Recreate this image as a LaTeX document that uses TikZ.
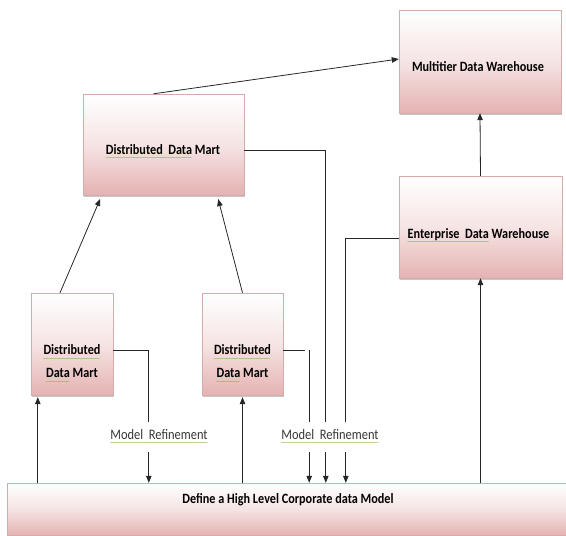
\documentclass[tikz,border=0pt]{standalone}
\usepackage{fontspec}
\setmainfont{Carlito}
\newfontfamily\narrowfont[FakeStretch=0.86]{Carlito}
\usetikzlibrary{arrows.meta,shadows}

\definecolor{boxpink}{RGB}{229,178,178}
\definecolor{boxline}{RGB}{212,172,172}
\definecolor{squig}{RGB}{130,180,80}

% green wavy spell-check underline
\newcommand\spell[1]{\leavevmode\setbox0\hbox{#1}%
  \rlap{\raisebox{-5.6pt}{\color{squig}\hbox to \wd0{\leaders\hbox{\fontsize{5}{5}\fontseries{m}\selectfont\kern-0.5pt\textasciitilde\kern-0.5pt}\hfill}}}\box0\relax}

\begin{document}
\begin{tikzpicture}[x=1pt, y=-1pt,
    box/.style={draw=boxline, top color=white, bottom color=boxpink,
                middle color=boxpink!35, inner sep=0pt,
                drop shadow={shadow xshift=1pt, shadow yshift=-1.5pt, fill=black!50, opacity=0.45}},
    boxtext/.style={font=\narrowfont\bfseries\fontsize{14.2}{23}\selectfont, text=black, align=center},
    refine/.style={fill=white, font=\narrowfont\fontsize{14.5}{15}\selectfont, text=black!78,
                   inner xsep=1pt, minimum height=30pt},
    link/.style={line width=0.8pt, draw=black!85},
    arr/.style={link, -{Triangle[length=7pt,width=5.5pt]}}]

  \useasboundingbox (0,0) rectangle (566,536);

  \node[box, minimum width=162pt, minimum height=103pt] (mdw) at (480,61.5) {};
  \node[box, minimum width=161pt, minimum height=101pt] (ddm) at (163.5,144.5) {};
  \node[box, minimum width=163pt, minimum height=102pt] (edw) at (480.5,227) {};
  \node[box, minimum width=82pt, minimum height=102pt] (dm1) at (72,344) {};
  \node[box, minimum width=81pt, minimum height=102pt] (dm2) at (242.5,344) {};
  \node[box, minimum width=561pt, minimum height=52pt] (base) at (287.5,509) {};

  \node[boxtext] (mdw-t) at (478,67) {Multitier Data Warehouse};
  \node[boxtext] (ddm-t) at (163,152) {\spell{Distributed\ \ Data} Mart};
  \node[boxtext] (edw-t) at (478.5,236) {\spell{Enterprise\ \ Data} Warehouse};
  \node[boxtext] (dm1-t) at (72,364) {\spell{Distributed}\\\spell{Data} Mart};
  \node[boxtext] (dm2-t) at (242.5,364) {\spell{Distributed}\\\spell{Data} Mart};
  \node[boxtext] (base-t) at (288,500) {Define a High Level Corporate data Model};

  % upward links
  \draw[arr] ([xshift=-10pt]ddm.north) -- ([yshift=2.5pt]mdw.west);
  \draw[arr] (edw.north) -- (mdw.south);
  \draw[arr] (edw.south |- base.north) -- (edw.south);
  \coordinate (u1) at ([xshift=7pt]dm1.south west);
  \draw[arr, shorten >=2pt] (u1 |- base.north) -- (u1);
  \draw[arr, shorten >=2pt] (dm2.south |- base.north) -- (dm2.south);
  \draw[arr, shorten >=4pt] ([xshift=-12pt]dm1.north) -- ([xshift=19pt]ddm.south west);
  \draw[arr, shorten >=4pt] (dm2.north) -- ([xshift=-27pt]ddm.south east);

  % refinement links
  \draw[arr] ([yshift=-6pt]dm1.east) -| ([xshift=142pt]base.north west);
  \draw[link] ([yshift=-6pt]dm2.east) -- ++(22,0);
  \coordinate (r2) at ([xshift=26pt,yshift=-6pt]dm2.east);
  \draw[arr] (r2) -- (r2 |- base.north);
  \draw[arr] ([yshift=-5.5pt]ddm.east) -| ([xshift=319pt]base.north west);
  \draw[arr] ([yshift=-11pt]edw.west) -| ([xshift=339pt]base.north west);

  \node[refine] (mr1) at (159,437) {\spell{Model\ \ Refinement}};
  \node[refine] (mr2) at (330,437) {\spell{Model\ \ Refinement}};
\end{tikzpicture}
\end{document}
